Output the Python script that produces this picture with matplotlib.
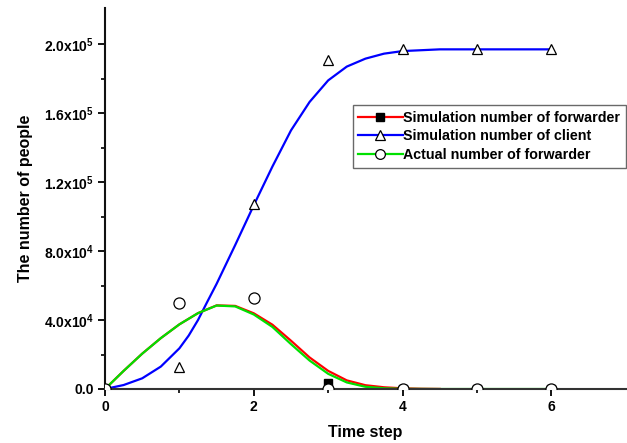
import matplotlib
matplotlib.use("Agg")
import matplotlib.pyplot as plt
from matplotlib.lines import Line2D
from matplotlib.ticker import FixedLocator, FuncFormatter

plt.rcParams['font.family'] = ['Liberation Sans', 'DejaVu Sans']
plt.rcParams['font.weight'] = 'bold'
plt.rcParams['mathtext.fontset'] = 'custom'
plt.rcParams['mathtext.rm'] = 'Liberation Sans:bold'
plt.rcParams['mathtext.bf'] = 'Liberation Sans:bold'
plt.rcParams['mathtext.it'] = 'Liberation Sans:bold'

# Model curves
t_client_curve = [0, 0.25, 0.5, 0.75, 1, 1.125, 1.25, 1.375, 1.5, 1.75, 2,
                  2.25, 2.5, 2.75, 3, 3.25, 3.5, 3.75, 4, 4.5, 5, 5.5, 6]
client_curve = [0, 2300, 6200, 13000, 23600, 31000, 40000, 50600, 61000,
                83500, 106600, 129000, 150000, 166500, 179000, 187000, 191600,
                194500, 196000, 197000, 197000, 197000, 197000]
t_fwd_curve = [0, 0.25, 0.5, 0.75, 1, 1.25, 1.5, 1.75, 2, 2.25, 2.5, 2.75, 3,
               3.25, 3.5, 3.75, 4, 4.5, 5, 5.5, 6]
actual_fwd_curve = [0, 10500, 20500, 29500, 37500, 44000, 48400, 47900, 43200,
                    36000, 26000, 16500, 8800, 3800, 1300, 400, 100, 0, 0, 0, 0]
t_sim_fwd_curve = [0, 0.25, 0.5, 0.75, 1, 1.25, 1.5, 1.75, 2, 2.25, 2.5, 2.75,
                   3, 3.25, 3.5, 3.75, 4, 4.25, 4.5]
sim_fwd_curve = [0, 10500, 20500, 29500, 37500, 44000, 48500, 48200, 43900,
                 37300, 28000, 18300, 10500, 5000, 2200, 1000, 400, 150, 50]

# Data points
t_points = [0, 1, 2, 3, 4, 5, 6]
client_points = [0, 13000, 107500, 191000, 197000, 197000, 197000]
actual_fwd_points = [0, 50000, 52500, 0, 0, 0, 0]
t_sim_fwd_points = [0, 3, 4, 5, 6]
sim_fwd_points = [0, 3500, 0, 0, 0]

legend_labels = ["Simulation number of forwarder",
                 "Simulation number of client",
                 "Actual number of forwarder"]

fig = plt.figure(figsize=(6.27, 4.43), dpi=100)
ax = fig.add_axes([0.1675, 0.1219, 0.8305, 0.8601])

ax.plot(t_client_curve, client_curve, color='#0000ff', lw=1.6, zorder=2)
ax.plot(t_sim_fwd_curve, sim_fwd_curve, color='#ff0000', lw=1.6, zorder=2.1)
ax.plot(t_fwd_curve, actual_fwd_curve, color='#00e000', lw=1.6, zorder=2.2)

ax.plot(t_sim_fwd_points, sim_fwd_points, ls='none', marker='s', ms=6,
        mfc='black', mec='black', zorder=3)
ax.plot(t_points, client_points, ls='none', marker='^', ms=7.5,
        mfc='white', mec='black', mew=0.9, zorder=3.1)
ax.plot(t_points, actual_fwd_points, ls='none', marker='o', ms=8,
        mfc='white', mec='black', mew=0.9, zorder=3.2)

ax.set_xlim(0, 7)
ax.set_ylim(0, 2.21e5)

ax.xaxis.set_major_locator(FixedLocator([0, 2, 4, 6]))
ax.xaxis.set_minor_locator(FixedLocator([1, 3, 5]))
ax.yaxis.set_major_locator(FixedLocator([0, 4e4, 8e4, 1.2e5, 1.6e5, 2.0e5]))
ax.yaxis.set_minor_locator(FixedLocator([2e4, 6e4, 1e5, 1.4e5, 1.8e5]))


def yfmt(v, pos):
    if v == 0:
        return "0.0"
    e = 0
    m = v
    while m >= 10:
        m /= 10
        e += 1
    return r"$\mathrm{%.1fx10^{%d}}$" % (m, e)


ax.yaxis.set_major_formatter(FuncFormatter(yfmt))

for side in ['top', 'right']:
    ax.spines[side].set_visible(False)
for side in ['left', 'bottom']:
    ax.spines[side].set_linewidth(1.5)
ax.spines['bottom'].set_color('#333333')
ax.spines['left'].set_color('#111111')

ax.tick_params(axis='both', which='major', direction='out', length=5,
               width=1.3, labelsize=10, pad=3)
ax.tick_params(axis='both', which='minor', direction='out', length=3,
               width=1.2)
for lab in ax.get_xticklabels() + ax.get_yticklabels():
    lab.set_fontweight('bold')

ax.set_xlabel("Time step", fontsize=11.5, fontweight='bold', labelpad=8)
ax.set_ylabel("The number of people", fontsize=11.5, fontweight='bold',
              labelpad=8)

handles = [
    Line2D([], [], color='#ff0000', lw=1.6, marker='s', ms=6, mfc='black',
           mec='black'),
    Line2D([], [], color='#0000ff', lw=1.6, marker='^', ms=7, mfc='white',
           mec='black', mew=0.9),
    Line2D([], [], color='#00e000', lw=1.6, marker='o', ms=7, mfc='white',
           mec='black', mew=0.9),
]
leg = ax.legend(handles, legend_labels, loc='upper left',
                bbox_to_anchor=(0.476, 0.745), frameon=True, fancybox=False,
                edgecolor='#444444', fontsize=10.3, handlelength=3.1,
                handletextpad=0.05, labelspacing=0.34, borderpad=0.38,
                borderaxespad=0)
leg.get_frame().set_linewidth(1.0)
for txt in leg.get_texts():
    txt.set_fontweight('bold')

fig.savefig("out.png", dpi=100)
